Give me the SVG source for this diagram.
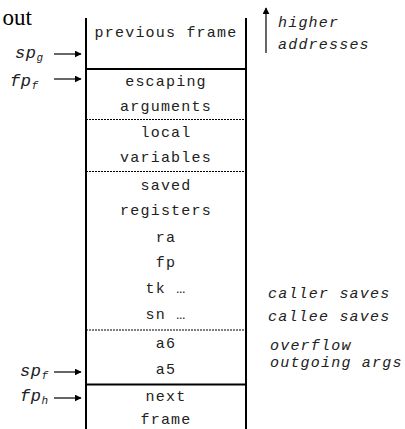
<svg xmlns="http://www.w3.org/2000/svg" width="405" height="429" viewBox="0 0 405 429">
<style>
.box{font-family:"Liberation Mono","Courier New",monospace;font-size:15px;letter-spacing:1.2px;fill:#222;text-anchor:middle}
.note{font-family:"Liberation Mono","Courier New",monospace;font-size:15px;letter-spacing:1.2px;font-style:italic;fill:#222}
.ptr{font-family:"Liberation Mono","Courier New",monospace;font-size:17px;letter-spacing:0.5px;font-style:italic;fill:#222}
.sub{font-size:11px}
.solid{stroke:#000;stroke-width:2;fill:none}
.dash{stroke:#000;stroke-width:1;stroke-dasharray:2,1;fill:none}
.arr{stroke:#000;stroke-width:1.2;fill:none}
</style>
<defs>
<marker id="ah" viewBox="0 0 10 10" refX="9" refY="5" markerWidth="7" markerHeight="7" markerUnits="userSpaceOnUse" orient="auto">
<path d="M0,0 L10,5 L0,10 z" fill="#000"/>
</marker>
</defs>
<text x="32" y="25" font-family="Liberation Serif,Times New Roman,serif" font-size="23" text-anchor="end" fill="#000">out</text>
<g id="frame">
<line class="solid" x1="86" y1="18" x2="86" y2="429"/>
<line class="solid" x1="246" y1="18" x2="246" y2="429"/>
<line class="solid" x1="86" y1="69" x2="246" y2="69"/>
<line class="dash" x1="86" y1="119.5" x2="246" y2="119.5"/>
<line class="dash" x1="86" y1="171.5" x2="246" y2="171.5"/>
<line class="dash" x1="86" y1="330" x2="246" y2="330"/>
<line class="solid" x1="86" y1="384.5" x2="246" y2="384.5"/>
</g>
<g id="previous"><text class="box" x="166" y="37">previous frame</text></g>
<g id="escaping"><text class="box" x="166" y="86">escaping</text><text class="box" x="166" y="111">arguments</text></g>
<g id="locals"><text class="box" x="166" y="137">local</text><text class="box" x="166" y="162">variables</text></g>
<g id="saved"><text class="box" x="166" y="190">saved</text><text class="box" x="166" y="215">registers</text><text class="box" x="166" y="242">ra</text><text class="box" x="166" y="267">fp</text><text class="box" x="166" y="293">tk …</text><text class="box" x="166" y="319">sn …</text></g>
<g id="outargs"><text class="box" x="166" y="348">a6</text><text class="box" x="166" y="374">a5</text></g>
<g id="next"><text class="box" x="166" y="401">next</text><text class="box" x="166" y="424">frame</text></g>
<g id="notes">
<text class="note" x="278" y="27">higher</text>
<text class="note" x="278" y="49">addresses</text>
<text class="note" x="268" y="298">caller saves</text>
<text class="note" x="268" y="321">callee saves</text>
<text class="note" x="270" y="350">overflow</text>
<text class="note" x="270" y="367">outgoing args</text>
</g>
<g id="pointers">
<text class="ptr" x="15" y="58">sp<tspan class="sub" dy="3">g</tspan></text>
<text class="ptr" x="10" y="86">fp<tspan class="sub" dy="3">f</tspan></text>
<text class="ptr" x="20" y="376">sp<tspan class="sub" dy="3">f</tspan></text>
<text class="ptr" x="20" y="401">fp<tspan class="sub" dy="3">h</tspan></text>
</g>
<g id="connectors">
<line class="arr" x1="54" y1="54" x2="81" y2="54" marker-end="url(#ah)"/>
<line class="arr" x1="54" y1="79" x2="81" y2="79" marker-end="url(#ah)"/>
<line class="arr" x1="54" y1="372" x2="81" y2="372" marker-end="url(#ah)"/>
<line class="arr" x1="54" y1="398" x2="81" y2="398" marker-end="url(#ah)"/>
<line class="arr" x1="266" y1="53" x2="266" y2="8" marker-end="url(#ah)"/>
</g>
</svg>
